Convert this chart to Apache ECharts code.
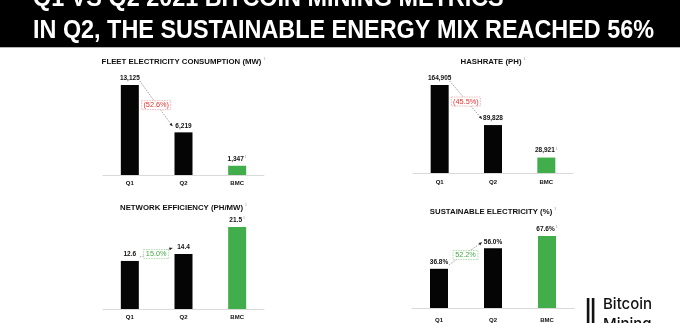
<!DOCTYPE html>
<html>
<head>
<meta charset="utf-8">
<script src="https://cdn.jsdelivr.net/npm/echarts@6/dist/echarts.min.js"></script>
<style>
  html, body { margin: 0; padding: 0; background: #fff; }
  #c { width: 680px; height: 323px; }
</style>
</head>
<body>
<div id="c"></div>
<script>
// Quarter-over-quarter mining metrics, plus the BMC reference bar
const categories = ['Q1', 'Q2', 'BMC'];
const fleetMW = [13125, 6219, 1347];
const hashratePH = [164905, 89828, 28921];
const efficiencyPHperMW = [12.6, 14.4, 21.5];
const sustainablePct = [36.8, 56.0, 67.6];

const panelTitles = [
  'FLEET ELECTRICITY CONSUMPTION (MW)',
  'HASHRATE (PH)',
  'NETWORK EFFICIENCY (PH/MW)',
  'SUSTAINABLE ELECTRICITY (%)'
];
const changeLabels = ['(52.6%)', '(45.5%)', '15.0%', '52.2%'];
const headline = [
  'Q1 VS Q2 2021 BITCOIN MINING METRICS',
  'IN Q2, THE SUSTAINABLE ENERGY MIX REACHED 56%'
];
const brandLines = ['Bitcoin', 'Mining'];

const BLACK = '#050505';
const GREEN = '#41ad4b';
const SMALL_FONT = '"Liberation Sans", Arial, sans-serif';

const fmtInt = v => v.toLocaleString('en-US');
const fmt1 = v => v.toFixed(1);
const fmtPct = v => v.toFixed(1) + '%';

const panels = [
  { data: fleetMW, fmt: fmtInt, grid: { left: 103, top: 85, width: 161, height: 90 }, titleY: 62, gain: false, labelMargin: 5 },
  { data: hashratePH, fmt: fmtInt, grid: { left: 413, top: 85, width: 160, height: 88 }, titleY: 62, gain: false, labelMargin: 6 },
  { data: efficiencyPHperMW, fmt: fmt1, grid: { left: 103, top: 227, width: 161, height: 82 }, titleY: 208, gain: true, labelMargin: 5 },
  { data: sustainablePct, fmt: fmtPct, grid: { left: 412, top: 236, width: 162, height: 81 }, titleY: 212, gain: true, labelMargin: 9 }
];

const chart = echarts.init(document.getElementById('c'), null, { renderer: 'canvas' });

const option = {
  backgroundColor: '#fff',
  animation: false,
  grid: panels.map(p => Object.assign({ containLabel: false }, p.grid)),
  xAxis: panels.map((p, i) => ({
    type: 'category',
    gridIndex: i,
    data: categories,
    axisTick: { show: false },
    axisLine: { show: true, lineStyle: { color: '#dadada', width: 1 } },
    axisLabel: { margin: p.labelMargin, fontSize: 6, fontWeight: 'bold', color: '#111', fontFamily: SMALL_FONT }
  })),
  yAxis: panels.map((p, i) => ({
    type: 'value',
    gridIndex: i,
    min: 0,
    max: 'dataMax',
    show: false,
    splitLine: { show: false }
  })),
  series: panels.map((p, i) => ({
    type: 'bar',
    xAxisIndex: i,
    yAxisIndex: i,
    barWidth: 18,
    data: p.data.map((v, j) => ({
      value: v,
      itemStyle: { color: categories[j] === 'BMC' ? GREEN : BLACK }
    })),
    label: {
      show: true,
      position: 'top',
      distance: 3,
      formatter: prm => categories[prm.dataIndex] === 'BMC'
        ? '{v|' + p.fmt(prm.value) + '}{s|1}'
        : '{v|' + p.fmt(prm.value) + '}',
      rich: {
        v: { fontSize: 6.5, fontWeight: 'bold', color: '#111', fontFamily: SMALL_FONT },
        s: { fontSize: 3.5, color: '#999', verticalAlign: 'top', padding: [0, 0, 4, 1] }
      }
    }
  }))
};

chart.setOption(option);

// Decorations: headline band, panel titles, change callouts, brand mark
const graphics = [];

graphics.push({ type: 'rect', shape: { x: 0, y: 0, width: 680, height: 47 }, style: { fill: '#000' }, z: 1 });
graphics.push({ type: 'rect', shape: { x: 0, y: 47, width: 680, height: 1 }, style: { fill: '#b5b5b5' }, z: 1 });
graphics.push({
  type: 'text', x: 33, y: -1.6, scaleX: 0.9, z: 2,
  style: { text: headline[0], fill: '#fff', font: 'bold 26px "Liberation Sans", Arial, sans-serif', align: 'left', verticalAlign: 'middle' }
});
graphics.push({
  type: 'text', x: 33, y: 30.7, scaleX: 0.9, z: 2,
  style: { text: headline[1], fill: '#fff', font: 'bold 26px "Liberation Sans", Arial, sans-serif', align: 'left', verticalAlign: 'middle' }
});

panels.forEach((p, i) => {
  const cx = p.grid.left + p.grid.width / 2;
  graphics.push({
    type: 'text', x: cx, y: p.titleY, z: 2,
    style: {
      text: '{t|' + panelTitles[i] + '}{s|1}',
      align: 'center', verticalAlign: 'middle',
      rich: {
        t: { fontSize: 7.8, fontWeight: 'bold', fill: '#111', fontFamily: SMALL_FONT },
        s: { fontSize: 3.5, fill: '#999', verticalAlign: 'top', padding: [0, 0, 5, 2] }
      }
    }
  });

  // callout between the Q1 and Q2 bars
  const a = chart.convertToPixel({ seriesIndex: i }, [0, p.data[0]]);
  const b = chart.convertToPixel({ seriesIndex: i }, [1, p.data[1]]);
  const x1 = a[0] + 10, y1 = a[1] - 4;
  const x2 = b[0] - 11, y2 = b[1] - 6;
  graphics.push({
    type: 'line', z: 2,
    shape: { x1: x1, y1: y1, x2: x2, y2: y2 },
    style: { stroke: '#7a7a7a', lineWidth: 0.7, lineDash: [1.5, 1.2] }
  });
  const dx = x2 - x1, dy = y2 - y1, len = Math.hypot(dx, dy);
  const ux = dx / len, uy = dy / len;
  graphics.push({
    type: 'polygon', z: 3,
    shape: { points: [
      [x2, y2],
      [x2 - ux * 3.2 - uy * 1.5, y2 - uy * 3.2 + ux * 1.5],
      [x2 - ux * 3.2 + uy * 1.5, y2 - uy * 3.2 - ux * 1.5]
    ] },
    style: { fill: '#222' }
  });
  const mx = (x1 + x2) / 2, my = (y1 + y2) / 2 + 1.5;
  const boxW = changeLabels[i].length > 5 ? 29 : 25;
  const ink = p.gain ? '#43a848' : '#e0322e';
  const edge = p.gain ? '#9fd49b' : '#f0a3a3';
  graphics.push({
    type: 'rect', z: 3,
    shape: { x: mx - boxW / 2, y: my - 4.5, width: boxW, height: 9 },
    style: { fill: '#fff', stroke: edge, lineWidth: 0.8, lineDash: [1.5, 1] }
  });
  graphics.push({
    type: 'text', x: mx, y: my + 0.3, z: 4,
    style: { text: changeLabels[i], fill: ink, font: '7.3px ' + SMALL_FONT, align: 'center', verticalAlign: 'middle' }
  });
});

// brand mark, bottom right
graphics.push({ type: 'rect', shape: { x: 586.8, y: 298, width: 2.6, height: 30 }, style: { fill: '#111' }, z: 2 });
graphics.push({ type: 'rect', shape: { x: 591.8, y: 298, width: 2.6, height: 30 }, style: { fill: '#111' }, z: 2 });
graphics.push({
  type: 'text', x: 603, y: 304.5, z: 2,
  style: { text: brandLines[0], fill: '#111', font: '500 15px Inter, "Open Sans", sans-serif', align: 'left', verticalAlign: 'middle' }
});
graphics.push({
  type: 'text', x: 603, y: 324, z: 2,
  style: { text: brandLines[1], fill: '#111', font: '500 15px Inter, "Open Sans", sans-serif', align: 'left', verticalAlign: 'middle' }
});

chart.setOption({ graphic: graphics });
</script>
</body>
</html>
